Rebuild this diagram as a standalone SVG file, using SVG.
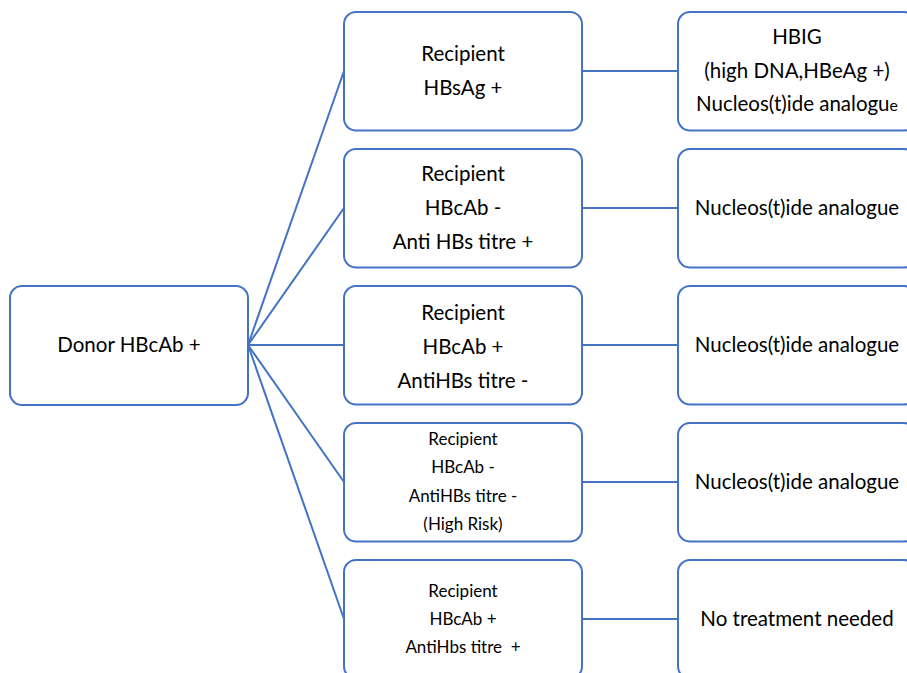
<svg xmlns="http://www.w3.org/2000/svg" width="907" height="673" viewBox="0 0 907 673">
<style>
.box{fill:#fff;stroke:#4472C4;stroke-width:2}
.conn line{stroke:#4472C4;stroke-width:2}
text{font-family:Lato,"Liberation Sans",sans-serif;fill:#000;text-anchor:middle}
.l{font-size:20.5px}
.s{font-size:17px}
</style>
<rect width="907" height="673" fill="#fff"/>
<g class="conn" id="connectors">
<line x1="248" y1="345" x2="344" y2="71"/>
<line x1="248" y1="345" x2="344" y2="208"/>
<line x1="248" y1="345" x2="344" y2="345"/>
<line x1="248" y1="345" x2="344" y2="482"/>
<line x1="248" y1="345" x2="344" y2="619"/>
<line x1="582" y1="71" x2="678" y2="71"/>
<line x1="582" y1="208" x2="678" y2="208"/>
<line x1="582" y1="345" x2="678" y2="345"/>
<line x1="582" y1="482" x2="678" y2="482"/>
<line x1="582" y1="619" x2="678" y2="619"/>
</g>
<g id="donor">
<rect class="box" x="10" y="286" width="238" height="119" rx="12"/>
<text class="l" x="129" y="352">Donor HBcAb +</text>
</g>
<g id="r1">
<rect class="box" x="344" y="12" width="238" height="118.5" rx="12"/>
<text class="l" x="463" y="61">Recipient</text>
<text class="l" x="463" y="95">HBsAg +</text>
</g>
<g id="r2">
<rect class="box" x="344" y="149" width="238" height="118.5" rx="12"/>
<text class="l" x="463" y="181">Recipient</text>
<text class="l" x="463" y="215">HBcAb -</text>
<text class="l" x="463" y="249">Anti HBs titre +</text>
</g>
<g id="r3">
<rect class="box" x="344" y="286" width="238" height="118.5" rx="12"/>
<text class="l" x="463" y="320">Recipient</text>
<text class="l" x="463" y="354">HBcAb +</text>
<text class="l" x="463" y="388">AntiHBs titre -</text>
</g>
<g id="r4">
<rect class="box" x="344" y="423" width="238" height="118.5" rx="12"/>
<text class="s" x="463" y="445">Recipient</text>
<text class="s" x="463" y="473">HBcAb -</text>
<text class="s" x="463" y="502">AntiHBs titre -</text>
<text class="s" x="463" y="530">(High Risk)</text>
</g>
<g id="r5">
<rect class="box" x="344" y="560" width="238" height="118.5" rx="12"/>
<text class="s" x="463" y="597">Recipient</text>
<text class="s" x="463" y="625">HBcAb +</text>
<text class="s" x="463" y="653" xml:space="preserve">AntiHbs titre  +</text>
</g>
<g id="t1">
<rect class="box" x="678" y="12" width="238" height="118.5" rx="12"/>
<text class="l" x="797" y="44">HBIG</text>
<text class="l" x="797" y="78">(high DNA,HBeAg +)</text>
<text class="l" x="797" y="111">Nucleos(t)ide analogu<tspan style="font-size:16px">e</tspan></text>
</g>
<g id="t2">
<rect class="box" x="678" y="149" width="238" height="118.5" rx="12"/>
<text class="l" x="797" y="215">Nucleos(t)ide analogue</text>
</g>
<g id="t3">
<rect class="box" x="678" y="286" width="238" height="118.5" rx="12"/>
<text class="l" x="797" y="352">Nucleos(t)ide analogue</text>
</g>
<g id="t4">
<rect class="box" x="678" y="423" width="238" height="118.5" rx="12"/>
<text class="l" x="797" y="489">Nucleos(t)ide analogue</text>
</g>
<g id="t5">
<rect class="box" x="678" y="560" width="238" height="118.5" rx="12"/>
<text class="l" x="797" y="626">No treatment needed</text>
</g>
</svg>
